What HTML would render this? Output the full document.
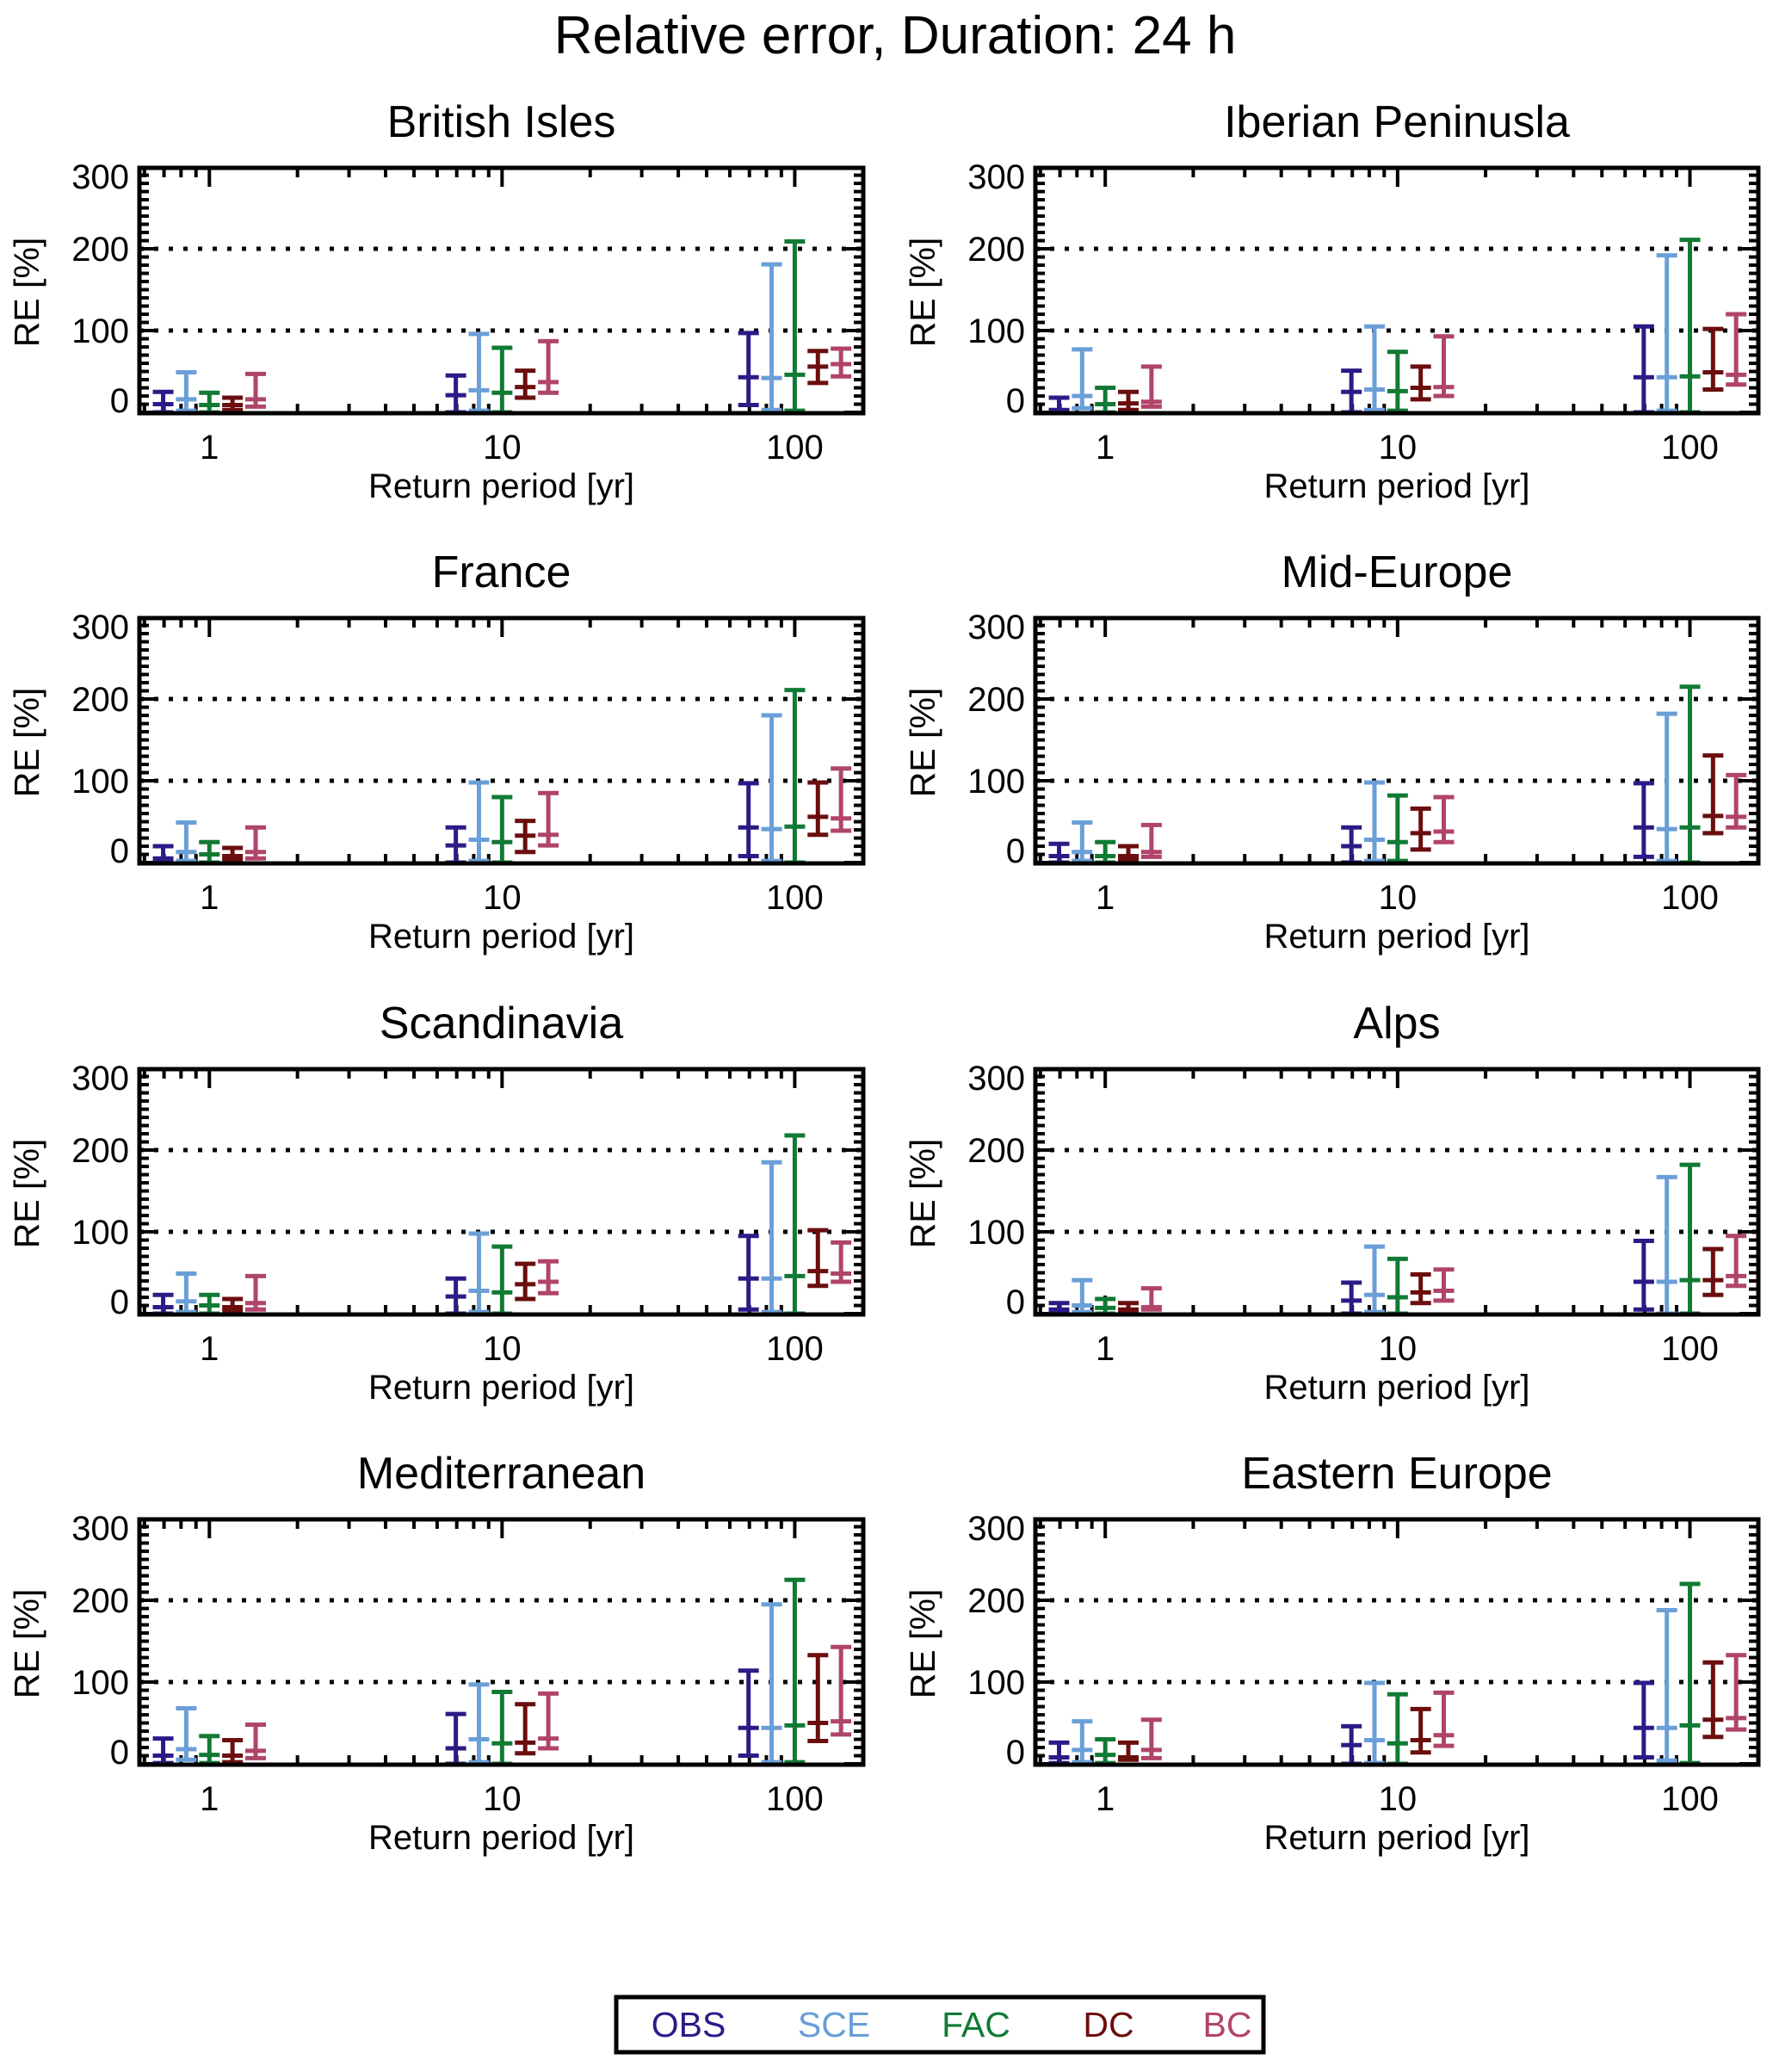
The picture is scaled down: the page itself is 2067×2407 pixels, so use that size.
<!DOCTYPE html>
<html><head><meta charset="utf-8">
<style>
html,body{margin:0;padding:0;background:#fff;}
svg{display:block;font-family:"Liberation Sans",Arial,sans-serif;}
</style></head>
<body>
<svg id="fig" width="2067" height="2407" viewBox="0 0 2067 2407" xmlns="http://www.w3.org/2000/svg">
<text x="1040" y="62" font-size="62" text-anchor="middle">Relative error, Duration: 24 h</text>
<g id="panels"></g>
<g>
<rect x="716" y="2320" width="752" height="64" fill="none" stroke="#000" stroke-width="5"/>
<text x="800" y="2366" font-size="41" text-anchor="middle" fill="#2e1a87">OBS</text>
<text x="969" y="2366" font-size="41" text-anchor="middle" fill="#6a9fd8">SCE</text>
<text x="1134" y="2366" font-size="41" text-anchor="middle" fill="#117a35">FAC</text>
<text x="1288" y="2366" font-size="41" text-anchor="middle" fill="#6b0e0e">DC</text>
<text x="1426" y="2366" font-size="41" text-anchor="middle" fill="#b0446a">BC</text>
</g>
</svg>
<script>
const regions = ["British Isles","Iberian Peninusla","France","Mid-Europe","Scandinavia","Alps","Mediterranean","Eastern Europe"];
const seriesNames = ["OBS","SCE","FAC","DC","BC"];
const seriesColors = ["#2e1a87","#6a9fd8","#117a35","#6b0e0e","#b0446a"];
const returnPeriods = [1,10,100];
const yTicks = [0,100,200,300];
const gridValues = [100,200];
// each region: per series, per return period: [low, median, high]
const britishIsles = [[[0,10,25],[0,21,45],[9,43,97]],[[2,16,49],[2,27,96],[3,42,181]],[[0,9,24],[0,24,79],[2,46,209]],[[3,9,18],[18,31,51],[36,56,75]],[[7,16,47],[24,37,87],[44,59,78]]];
const iberian = [[[0,3,18],[0,25,51],[0,43,105]],[[5,20,77],[3,28,105],[2,43,192]],[[0,10,30],[2,26,74],[0,44,211]],[[3,11,25],[16,30,56],[28,49,102]],[[7,13,56],[20,31,93],[34,46,120]]];
const france = [[[0,5,20],[0,21,43],[8,43,97]],[[2,13,49],[2,28,98],[2,41,180]],[[0,10,25],[0,25,80],[0,44,211]],[[3,8,18],[13,33,51],[34,56,98]],[[5,13,43],[21,34,85],[39,54,115]]];
const midEurope = [[[0,8,23],[0,20,43],[7,43,97]],[[2,13,49],[2,28,98],[2,41,182]],[[0,8,25],[2,25,82],[0,43,215]],[[3,8,20],[16,36,66],[36,57,131]],[[7,13,46],[25,38,80],[43,56,107]]];
const scandinavia = [[[0,8,23],[0,21,43],[5,43,95]],[[2,15,49],[2,28,98],[2,43,185]],[[0,10,23],[0,26,82],[0,46,218]],[[3,8,18],[18,36,61],[34,52,102]],[[5,13,46],[25,39,64],[39,49,87]]];
const alps = [[[0,5,13],[0,16,38],[5,39,89]],[[2,10,41],[2,23,82],[0,39,167]],[[0,7,18],[0,20,67],[0,41,182]],[[2,5,13],[13,26,48],[23,41,79]],[[5,8,31],[16,28,54],[34,46,95]]];
const mediterranean = [[[1,10,31],[0,19,61],[10,44,114]],[[5,18,68],[2,30,97],[2,44,195]],[[1,11,34],[0,25,88],[2,47,225]],[[2,10,29],[13,26,73],[28,50,133]],[[7,16,48],[19,31,86],[36,52,143]]];
const easternEurope = [[[1,8,26],[0,23,46],[8,44,99]],[[2,17,52],[1,29,99],[4,44,188]],[[1,11,30],[0,25,85],[1,47,220]],[[5,8,26],[14,29,67],[33,54,124]],[[7,17,54],[22,35,87],[42,56,133]]];
const regionData = [britishIsles,iberian,france,midEurope,scandinavia,alps,mediterranean,easternEurope];

const NS="http://www.w3.org/2000/svg";
const root=document.getElementById('panels');
const colX=[[162,1003],[1203,2043]];
const rowY=[195,718,1242,1765];
const PH=285, YMIN=-1, YMAX=299, LMIN=-0.239, LMAX=2.234, OFF=0.079;
function mk(tag,attrs,parent){const e=document.createElementNS(NS,tag);for(const k in attrs)e.setAttribute(k,attrs[k]);parent.appendChild(e);return e;}
function slug(s){return s.toLowerCase().replace(/[^a-z0-9]+/g,'-').replace(/-$/,'');}

regions.forEach((name,pi)=>{
  const c=pi%2, r=Math.floor(pi/2);
  const x0=colX[c][0], x1=colX[c][1], y0=rowY[r], y1=y0+PH;
  const xs=l=>x0+(l-LMIN)/(LMAX-LMIN)*(x1-x0);
  const ys=v=>y1-(Math.max(YMIN,Math.min(YMAX,v))-YMIN)/(YMAX-YMIN)*PH;
  const g=mk('g',{},root);
  
  
  const t=mk('text',{x:(x0+x1)/2,y:y0-36,'font-size':52,'text-anchor':'middle'},g);
  t.textContent=name;
  
  
  gridValues.forEach(v=>{
    const l=mk('line',{x1:x0,x2:x1,y1:ys(v),y2:ys(v),stroke:'#000','stroke-width':5,'stroke-dasharray':'5 12'},g);
    
    
  });
  for(let v=0;v<=YMAX;v+=10){
    const len=(v%100===0)?22:11;
    mk('line',{x1:x0,x2:x0+len,y1:ys(v),y2:ys(v),stroke:'#000','stroke-width':4},g);
    mk('line',{x1:x1,x2:x1-len,y1:ys(v),y2:ys(v),stroke:'#000','stroke-width':4},g);
  }
  for(let d=-1;d<=2;d++){
    for(let m=1;m<=9;m++){
      const l=d+Math.log10(m);
      if(l<LMIN||l>LMAX)continue;
      const len=m===1?22:11;
      mk('line',{x1:xs(l),x2:xs(l),y1:y1,y2:y1-len,stroke:'#000','stroke-width':4},g);
      mk('line',{x1:xs(l),x2:xs(l),y1:y0,y2:y0+len,stroke:'#000','stroke-width':4},g);
    }
  }
  yTicks.forEach(v=>{
    const by=Math.max(y0+24,Math.min(y1-1,ys(v)+14));
    const tt=mk('text',{x:x0-12,y:by,'font-size':40,'text-anchor':'end'},g);
    tt.textContent=v;
    
    
  });
  returnPeriods.forEach(rp=>{
    const tt=mk('text',{x:xs(Math.log10(rp)),y:y1+53,'font-size':40,'text-anchor':'middle'},g);
    tt.textContent=rp;
    
    
  });
  const xt=mk('text',{x:(x0+x1)/2,y:y1+98,'font-size':40,'text-anchor':'middle'},g);
  xt.textContent='Return period [yr]';
  
  
  const yx=x0-117, yy=(y0+y1)/2+2;
  const yt=mk('text',{x:yx,y:yy,'font-size':41,'text-anchor':'middle',transform:`rotate(-90 ${yx} ${yy})`},g);
  yt.textContent='RE [%]';
  
  
  const data=regionData[pi];
  data.forEach((ser,si)=>{
    ser.forEach((vals,ri)=>{
      const cx=xs(Math.log10(returnPeriods[ri])+(si-2)*OFF);
      const col=seriesColors[si], hw=12;
      const bg=mk('g',{stroke:col,'stroke-width':5},g);
      
      
      mk('line',{x1:cx,x2:cx,y1:ys(vals[0]),y2:ys(vals[2])},bg);
      [0,1,2].forEach(k=>mk('line',{x1:cx-hw,x2:cx+hw,y1:ys(vals[k]),y2:ys(vals[k])},bg));
    });
  });
  const box=mk('rect',{x:x0,y:y0,width:x1-x0,height:PH,fill:'none',stroke:'#000','stroke-width':5},g);
  
  
});
</script>
</body></html>
